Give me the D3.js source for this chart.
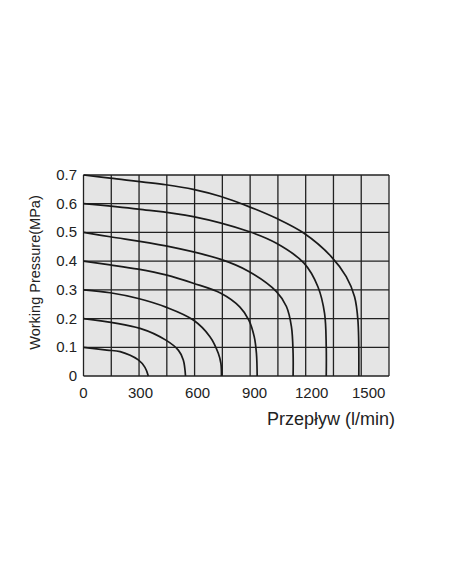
<!DOCTYPE html>
<html>
<head>
<meta charset="UTF-8">
<script src="https://cdn.jsdelivr.net/npm/d3@7"></script>
<style>
  body { margin: 0; background: #fff; }
  text { font-family: "Liberation Sans", Arial, sans-serif; fill: #222; }
</style>
</head>
<body>
<svg id="chart" width="452" height="584"></svg>
<script>
  // flow (l/min) vs pressure (MPa), one curve per set pressure
  const setPressures = [0.1, 0.2, 0.3, 0.4, 0.5, 0.6, 0.7]
  const curve01 = [[0,0.1],[126,0.09],[198,0.085],[296,0.056],[332,0.03],[350,0]]
  const curve02 = [[0,0.2],[305,0.166],[445,0.125],[512,0.09],[539,0.056],[551,0]]
  const curve03 = [[0,0.3],[144,0.29],[296,0.27],[445,0.24],[593,0.195],[683,0.137],[728,0.079],[742,0.044],[745,0]]
  const curve04 = [[0,0.4],[144,0.387],[296,0.372],[445,0.352],[593,0.323],[742,0.288],[845,0.24],[893,0.195],[922,0.137],[934,0.079],[938,0]]
  const curve05 = [[0,0.5],[144,0.485],[445,0.453],[742,0.406],[893,0.364],[1042,0.294],[1096,0.242],[1123,0.172],[1132,0.079],[1132,0]]
  const curve06 = [[0,0.6],[296,0.581],[593,0.555],[893,0.503],[1042,0.462],[1191,0.393],[1266,0.311],[1302,0.218],[1311,0.102],[1311,0]]
  const curve07 = [[0,0.7],[144,0.689],[445,0.666],[593,0.65],[742,0.625],[893,0.59],[1042,0.549],[1191,0.497],[1338,0.416],[1419,0.346],[1464,0.276],[1482,0.195],[1487,0]]
  const curves = [curve01, curve02, curve03, curve04, curve05, curve06, curve07]
  const xTicks = [0, 300, 600, 900, 1200, 1500]
  const yTicks = [0, 0.1, 0.2, 0.3, 0.4, 0.5, 0.6, 0.7]

  const svg = d3.select('#chart')
  const pLeft = 83.5, pRight = 389, pTop = 175, pBottom = 376

  const x = d3.scaleLinear().domain([0, 1650]).range([pLeft, pRight])
  const y = d3.scaleLinear().domain([0, 0.7]).range([pBottom, pTop])

  svg.append('rect')
    .attr('x', pLeft).attr('y', pTop)
    .attr('width', pRight - pLeft).attr('height', pBottom - pTop)
    .attr('fill', '#e5e5e5')

  // grid: every 150 l/min and 0.1 MPa
  const g = svg.append('g').attr('stroke', '#222').attr('stroke-width', 1.3)
  g.selectAll('.vx').data(d3.range(0, 1651, 150)).enter().append('line')
    .attr('x1', d => x(d)).attr('x2', d => x(d))
    .attr('y1', pTop).attr('y2', pBottom)
  g.selectAll('.hy').data(yTicks).enter().append('line')
    .attr('x1', pLeft).attr('x2', pRight)
    .attr('y1', d => y(d)).attr('y2', d => y(d))

  const line = d3.line()
    .x(d => x(d[0])).y(d => y(d[1]))
    .curve(d3.curveCatmullRom.alpha(0.5))

  svg.append('g').selectAll('path').data(curves).enter().append('path')
    .attr('d', line)
    .attr('fill', 'none')
    .attr('stroke', '#1a1a1a')
    .attr('stroke-width', 1.7)

  svg.append('g').selectAll('text').data(yTicks).enter().append('text')
    .attr('x', 77).attr('y', d => y(d) + 5)
    .attr('text-anchor', 'end')
    .attr('font-size', 15)
    .text(d => d === 0 ? '0' : d.toFixed(1))

  svg.append('g').selectAll('text').data(xTicks).enter().append('text')
    .attr('x', d => x(d) + (d === 0 ? 0 : d / 300 * 1.5))
    .attr('y', 398)
    .attr('text-anchor', 'middle')
    .attr('font-size', 15)
    .text(d => d)

  svg.append('text')
    .attr('x', 395).attr('y', 425)
    .attr('text-anchor', 'end')
    .attr('font-size', 18)
    .text('Przepływ (l/min)')

  svg.append('text')
    .attr('transform', 'translate(40,' + ((pTop + pBottom) / 2 - 3) + ') rotate(-90)')
    .attr('text-anchor', 'middle')
    .attr('font-size', 14.5)
    .text('Working Pressure(MPa)')
</script>
</body>
</html>
